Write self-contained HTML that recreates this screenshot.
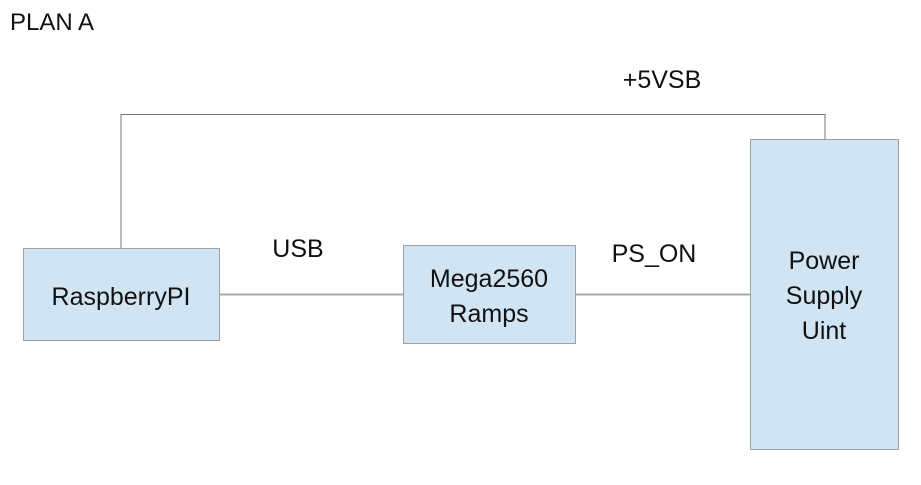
<!DOCTYPE html>
<html><head><meta charset="utf-8"><style>
body{margin:0;background:#fff;}
svg text{font-family:"Liberation Sans",sans-serif;fill:#111;}
</style></head><body>
<svg width="921" height="480" xmlns="http://www.w3.org/2000/svg">
<rect width="921" height="480" fill="#fff"/>
<text x="10" y="30" font-size="24">PLAN A</text>
<polyline points="121,248 121,114.5 825,114.5 825,139" fill="none" stroke="#777" stroke-width="1"/>
<line x1="220" y1="294.5" x2="403" y2="294.5" stroke="#aaa" stroke-width="2"/>
<line x1="576" y1="294.5" x2="750" y2="294.5" stroke="#aaa" stroke-width="2"/>
<rect x="23.5" y="248.5" width="196" height="92" fill="#d0e4f3" stroke="#a0a0a0"/>
<rect x="403.5" y="245.5" width="172" height="98" fill="#d0e4f3" stroke="#a0a0a0"/>
<rect x="750.5" y="139.5" width="148" height="310" fill="#d0e4f3" stroke="#a0a0a0"/>
<text x="121" y="305" font-size="25" text-anchor="middle">RaspberryPI</text>
<text x="489" y="287" font-size="25" text-anchor="middle">Mega2560</text>
<text x="489" y="322" font-size="25" text-anchor="middle">Ramps</text>
<text x="824" y="269" font-size="25" text-anchor="middle">Power</text>
<text x="824" y="304" font-size="25" text-anchor="middle">Supply</text>
<text x="824" y="339" font-size="25" text-anchor="middle">Uint</text>
<text x="298" y="257" font-size="25" text-anchor="middle">USB</text>
<text x="654" y="262" font-size="25" text-anchor="middle">PS_ON</text>
<text x="662" y="88" font-size="25" text-anchor="middle">+5VSB</text>
</svg>
</body></html>
